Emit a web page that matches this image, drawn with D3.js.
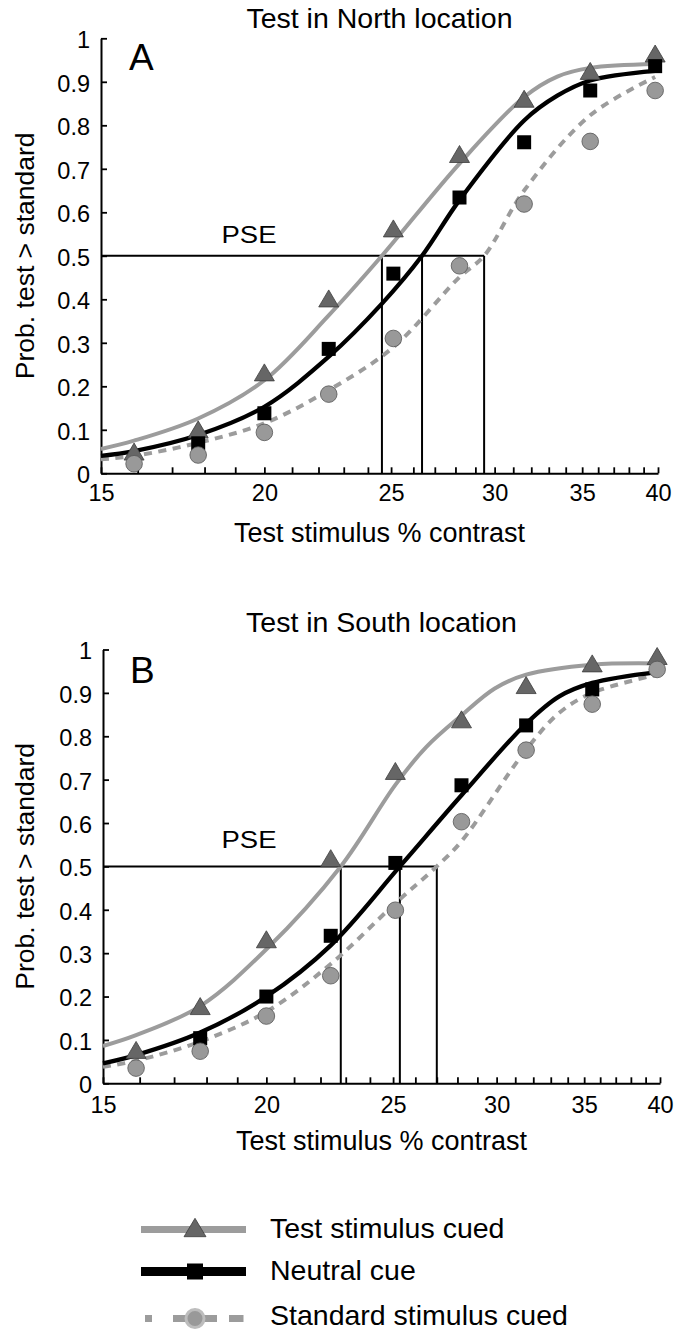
<!DOCTYPE html>
<html>
<head>
<meta charset="utf-8">
<script src="https://cdn.jsdelivr.net/npm/d3@7"></script>
<style>
  html, body { margin: 0; padding: 0; background: #fff; }
  svg { display: block; font-family: "Liberation Sans", Arial, Helvetica, sans-serif; }
</style>
</head>
<body>
<svg id="chart" width="677" height="1332"></svg>
<script>
// ---------------- DATA ----------------
const contrastLevels = [15.9, 17.8, 20, 22.4, 25.1, 28.2, 31.6, 35.5, 39.8];

const yTickValues = [0, 0.1, 0.2, 0.3, 0.4, 0.5, 0.6, 0.7, 0.8, 0.9, 1];
const yTickLabels = ["0", "0.1", "0.2", "0.3", "0.4", "0.5", "0.6", "0.7", "0.8", "0.9", "1"];
const xMinorTicks = [15, 16, 17, 18, 19, 20, 21, 22, 23, 24, 25, 26, 27, 28, 29, 30, 31, 32, 33, 34, 35, 36, 37, 38, 39, 40];
const xTickLabels = [15, 20, 25, 30, 35, 40];

const seriesNames = ["Test stimulus cued", "Neutral cue", "Standard stimulus cued"];

// Panel A: Test in North location
const northTestCued = [0.05, 0.101, 0.232, 0.402, 0.563, 0.734, 0.861, 0.925, 0.965];
const northNeutral  = [null, 0.069, 0.138, 0.286, 0.459, 0.634, 0.761, 0.88, 0.936];
const northStdCued  = [0.022, 0.042, 0.094, 0.182, 0.31, 0.477, 0.619, 0.763, 0.88];
const northPSE = [24.6, 26.4, 29.45];

const northFitTest = [[15, 0.056], [15.9, 0.075], [17.8, 0.126], [20, 0.214], [22.4, 0.363], [24.6, 0.5], [28.2, 0.712], [31.6, 0.865], [33.5, 0.912], [35.5, 0.932], [39.8, 0.941]];
const northFitNeutral = [[15, 0.04], [15.9, 0.051], [17.8, 0.088], [20, 0.153], [22.4, 0.268], [24.6, 0.39], [26.4, 0.5], [28.2, 0.628], [31.6, 0.811], [33.5, 0.868], [35.5, 0.903], [39.8, 0.925]];
const northFitStd = [[15, 0.032], [15.9, 0.04], [17.8, 0.07], [20, 0.115], [22.4, 0.191], [25.1, 0.29], [28.2, 0.451], [29.45, 0.5], [31.6, 0.65], [35.5, 0.823], [39.8, 0.911]];

// Panel B: Test in South location
const southTestCued = [0.077, 0.178, 0.332, 0.519, 0.72, 0.839, 0.918, 0.968, 0.985];
const southNeutral  = [null, 0.104, 0.2, 0.34, 0.508, 0.687, 0.825, 0.908, null];
const southStdCued  = [0.035, 0.074, 0.155, 0.248, 0.399, 0.603, 0.768, 0.874, 0.954];
const southPSE = [22.8, 25.3, 27.0];

const southFitTest = [[15, 0.086], [15.9, 0.111], [17.8, 0.178], [20, 0.309], [22.8, 0.5], [25.1, 0.688], [26.5, 0.775], [28.2, 0.848], [29.9, 0.91], [31.6, 0.942], [35.5, 0.965], [39.8, 0.968]];
const southFitNeutral = [[15, 0.046], [15.9, 0.065], [17.8, 0.117], [20, 0.2], [22.4, 0.318], [25.3, 0.5], [28.2, 0.664], [31.6, 0.829], [33.5, 0.892], [35.5, 0.923], [39.8, 0.948]];
const southFitStd = [[15, 0.038], [15.9, 0.052], [17.8, 0.096], [20, 0.165], [22.4, 0.275], [25.1, 0.415], [27.0, 0.5], [28.2, 0.558], [31.6, 0.769], [33.5, 0.854], [35.5, 0.9], [39.8, 0.942]];

// ---------------- STYLE ----------------
const FONT = '"Liberation Sans", Arial, Helvetica, sans-serif';
const GRAY_LINE = "#9c9c9c";
const TRI_FILL = "#666666", TRI_STROKE = "#3c3c3c";
const CIRC_FILL = "#999999", CIRC_STROKE = "#555555";

const svg = d3.select("#chart");

const panels = [
  { title: "Test in North location", letter: "A",
    xr: [101, 658], yr: [473.3, 38.3], titleY: 28, letterX: 129, letterY: 70,
    xLabelDy: 28, xTitleY: 542, pseTextY: 243,
    tri: northTestCued, sq: northNeutral, circ: northStdCued, pse: northPSE,
    fitT: northFitTest, fitN: northFitNeutral, fitS: northFitStd },
  { title: "Test in South location", letter: "B",
    xr: [103, 660], yr: [1083.3, 649.5], titleY: 632, letterX: 130, letterY: 682.5,
    xLabelDy: 30, xTitleY: 1150, pseTextY: 848,
    tri: southTestCued, sq: southNeutral, circ: southStdCued, pse: southPSE,
    fitT: southFitTest, fitN: southFitNeutral, fitS: southFitStd }
];

panels.forEach(p => {
  const x = d3.scaleLog().domain([15, 40]).range(p.xr);
  const y = d3.scaleLinear().domain([0, 1]).range(p.yr);
  const g = svg.append("g");

  // title
  g.append("text").attr("x", (p.xr[0] + p.xr[1]) / 2).attr("y", p.titleY)
    .attr("text-anchor", "middle").attr("font-size", 28.5).attr("fill", "#000").text(p.title);

  // axes
  const yAxis = d3.axisLeft(y).tickValues(yTickValues)
    .tickFormat((d, i) => yTickLabels[i]).tickSizeInner(-6).tickSizeOuter(0).tickPadding(11);
  const gy = g.append("g").attr("transform", `translate(${p.xr[0]},0)`).call(yAxis);
  gy.selectAll("text").attr("font-size", 23.5).attr("font-family", FONT).attr("fill", "#000").attr("dy", "0.4em");

  const xAxis = d3.axisBottom(x).tickValues(xMinorTicks)
    .tickFormat(d => xTickLabels.includes(d) ? String(d) : "")
    .tickSizeInner(-6).tickSizeOuter(0);
  const gx = g.append("g").attr("transform", `translate(0,${p.yr[0]})`).call(xAxis);
  gx.selectAll("text").attr("font-size", 23.5).attr("font-family", FONT).attr("fill", "#000")
    .attr("y", p.xLabelDy).attr("dy", 0);

  [gx, gy].forEach(ax => {
    ax.select(".domain").attr("stroke", "#000").attr("stroke-width", 2);
    ax.selectAll(".tick line").attr("stroke", "#000").attr("stroke-width", 1.8);
  });

  // axis titles
  g.append("text").attr("x", (p.xr[0] + p.xr[1]) / 2).attr("y", p.xTitleY)
    .attr("text-anchor", "middle").attr("font-size", 27).text("Test stimulus % contrast");
  const yMid = (p.yr[0] + p.yr[1]) / 2;
  g.append("text").attr("transform", `translate(34,${yMid}) rotate(-90)`)
    .attr("text-anchor", "middle").attr("font-size", 26.5).text("Prob. test > standard");

  // panel letter
  g.append("text").attr("x", p.letterX).attr("y", p.letterY).attr("font-size", 37).text(p.letter);

  // PSE lines
  const pseMax = d3.max(p.pse);
  g.append("line").attr("x1", p.xr[0]).attr("x2", x(pseMax)).attr("y1", y(0.5)).attr("y2", y(0.5))
    .attr("stroke", "#000").attr("stroke-width", 2);
  p.pse.forEach(v => {
    g.append("line").attr("x1", x(v)).attr("x2", x(v)).attr("y1", y(0)).attr("y2", y(0.5))
      .attr("stroke", "#000").attr("stroke-width", 2);
  });
  g.append("text").attr("x", 249).attr("y", p.pseTextY).attr("text-anchor", "middle")
    .attr("font-size", 23).attr("textLength", 55).attr("lengthAdjust", "spacingAndGlyphs").text("PSE");

  // fitted curves
  const line = d3.line().x(d => x(d[0])).y(d => y(d[1])).curve(d3.curveCatmullRom.alpha(0.5));
  g.append("path").attr("d", line(p.fitS)).attr("fill", "none").attr("stroke", GRAY_LINE)
    .attr("stroke-width", 4).attr("stroke-dasharray", "8,6.5");
  g.append("path").attr("d", line(p.fitT)).attr("fill", "none").attr("stroke", GRAY_LINE)
    .attr("stroke-width", 4);
  g.append("path").attr("d", line(p.fitN)).attr("fill", "none").attr("stroke", "#000")
    .attr("stroke-width", 4.3);

  // markers
  const triPath = "M0,-8.5L10,8.5L-10,8.5Z";
  contrastLevels.forEach((c, i) => {
    if (p.tri[i] != null)
      g.append("path").attr("d", triPath).attr("transform", `translate(${x(c)},${y(p.tri[i])})`)
        .attr("fill", TRI_FILL).attr("stroke", TRI_STROKE).attr("stroke-width", 0.8);
  });
  contrastLevels.forEach((c, i) => {
    if (p.sq[i] != null)
      g.append("rect").attr("x", x(c) - 7).attr("y", y(p.sq[i]) - 7).attr("width", 14).attr("height", 14)
        .attr("fill", "#000");
  });
  contrastLevels.forEach((c, i) => {
    if (p.circ[i] != null)
      g.append("circle").attr("cx", x(c)).attr("cy", y(p.circ[i])).attr("r", 8.3)
        .attr("fill", CIRC_FILL).attr("stroke", CIRC_STROKE).attr("stroke-width", 0.8);
  });
});

// ---------------- LEGEND ----------------
const lg = svg.append("g");
const legRows = [1229.5, 1271.5, 1318.5];
const legTextY = [1238, 1280, 1325];
const lx0 = 141, lx1 = 246, lmx = 195;

// row 1: test cued
lg.append("line").attr("x1", lx0).attr("x2", lx1).attr("y1", legRows[0]).attr("y2", legRows[0])
  .attr("stroke", GRAY_LINE).attr("stroke-width", 7);
lg.append("path").attr("d", "M0,-9.2L11,9.2L-11,9.2Z").attr("transform", `translate(${lmx},${legRows[0] - 2})`)
  .attr("fill", TRI_FILL).attr("stroke", TRI_STROKE).attr("stroke-width", 0.8);
// row 2: neutral
lg.append("line").attr("x1", lx0).attr("x2", lx1).attr("y1", legRows[1]).attr("y2", legRows[1])
  .attr("stroke", "#000").attr("stroke-width", 9);
lg.append("rect").attr("x", lmx - 8).attr("y", legRows[1] - 8).attr("width", 16).attr("height", 16).attr("fill", "#000");
// row 3: standard cued
lg.append("line").attr("x1", 145).attr("x2", 243.5).attr("y1", legRows[2]).attr("y2", legRows[2])
  .attr("stroke", GRAY_LINE).attr("stroke-width", 7).attr("stroke-dasharray", "7,21,44,12,15");
lg.append("circle").attr("cx", lmx).attr("cy", legRows[2]).attr("r", 9)
  .attr("fill", "#999999").attr("stroke", "#bdbdbd").attr("stroke-width", 3);

seriesNames.forEach((n, i) => {
  lg.append("text").attr("x", 270).attr("y", legTextY[i]).attr("font-size", 28.5).text(n);
});
</script>
</body>
</html>
